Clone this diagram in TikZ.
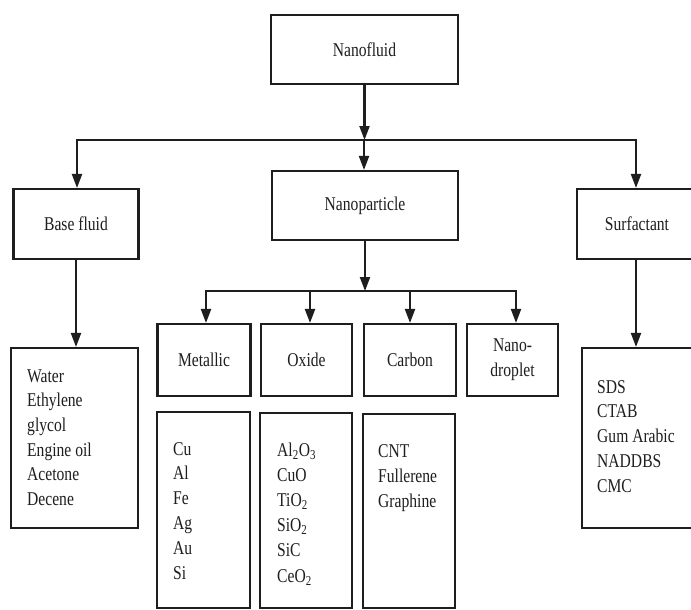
\documentclass[tikz,border=0pt]{standalone}
\usepackage{fontspec}
\setmainfont{Liberation Serif}[FakeStretch=0.8]
\usetikzlibrary{arrows.meta}
\definecolor{ink}{HTML}{1E1E1E}
\newcommand\labfont{\fontsize{19.5}{24.8}\selectfont}
\begin{document}
\begin{tikzpicture}[x=1pt,y=-1pt,
  box/.style={draw=ink, line width=2.1pt, inner sep=0pt, font=\labfont, text=ink},
  ln/.style={draw=ink, line width=2.1pt, line cap=rect},
  arr/.style={draw=ink, line width=2.1pt, line cap=rect, -{Triangle[length=14pt,width=10pt]}},
  item/.style={anchor=base west, inner sep=0pt, font=\labfont, text=ink}]
\fill[white] (0,0) rectangle (691,610);
\useasboundingbox (0,0) rectangle (691,610);
% level 0
\node[box, minimum width=187pt, minimum height=69pt] (nf) at (364.5,49.5) {Nanofluid};
% level 1
\node[box, minimum width=125pt, minimum height=70pt] (bf) at (76,224) {Base fluid};
\node[box, minimum width=186pt, minimum height=69pt] (np) at (365,205.5) {Nanoparticle};
\node[box, minimum width=120pt, minimum height=70pt] (sf) at (637,224) {Surfactant};
% level 2
\node[box, minimum width=93pt, minimum height=72pt] (met) at (204,360) {Metallic};
\node[box, minimum width=91pt, minimum height=72pt] (ox) at (306.5,360) {Oxide};
\node[box, minimum width=92pt, minimum height=72pt] (ca) at (410,360) {Carbon};
\node[box, minimum width=91pt, minimum height=72pt, align=center] (nd) at (512.5,360) {Nano-\\droplet};
% lists
\node[box, minimum width=127pt, minimum height=180pt] (bfl) at (74.5,438) {};
\node[box, minimum width=118pt, minimum height=180pt] (sfl) at (641,438) {};
\node[box, minimum width=93pt, minimum height=196pt] (metl) at (203.5,510) {};
\node[box, minimum width=92pt, minimum height=195pt] (oxl) at (306,510.5) {};
\node[box, minimum width=92pt, minimum height=194pt] (cal) at (409,511) {};
% list items
\foreach \t [count=\i] in {Water, Ethylene, glycol, Engine oil, Acetone, Decene}
  \node[item] (bfi\i) at (27,{382+24.7*(\i-1)}) {\t};
\foreach \t [count=\i] in {SDS, CTAB, Gum Arabic, NADDBS, CMC}
  \node[item] (sfi\i) at (597,{393+24.8*(\i-1)}) {\t};
\foreach \t [count=\i] in {Cu, Al, Fe, Ag, Au, Si}
  \node[item] (meti\i) at (173,{455+24.8*(\i-1)}) {\t};
\foreach \t [count=\i] in {Al\textsubscript{2}O\textsubscript{3}, CuO, TiO\textsubscript{2}, SiO\textsubscript{2}, SiC, CeO\textsubscript{2}}
  \node[item] (oxi\i) at (277,{456+25.2*(\i-1)}) {\t};
\foreach \t [count=\i] in {CNT, Fullerene, Graphine}
  \node[item] (cai\i) at (378,{457+25*(\i-1)}) {\t};
% connectors
\coordinate (j1) at (364,140);
\coordinate (jl) at (77,140);
\coordinate (jr) at (636,140);
\draw[ln] (jl) -- (jr);
\draw[arr] (nf.south) -- (nf.south |- j1);
\draw[arr] (jl) -- (jl |- bf.north);
\draw[arr] (j1) -- (j1 |- np.north);
\draw[arr] (jr) -- (jr |- sf.north);
\draw[arr] (bf.south) -- (bf.south |- bfl.north);
\draw[arr] (jr |- sf.south) -- (jr |- sfl.north);
\coordinate (j2) at (366,291);
\draw[arr] (np.south) -- (np.south |- j2);
\coordinate (k1) at (206,291);
\coordinate (k2) at (310,291);
\coordinate (k3) at (410,291);
\coordinate (k4) at (516,291);
\draw[ln] (k1) -- (k4);
\foreach \k/\n in {k1/met, k2/ox, k3/ca, k4/nd}
  \draw[arr] (\k) -- (\k |- \n.north);
\end{tikzpicture}
\end{document}
